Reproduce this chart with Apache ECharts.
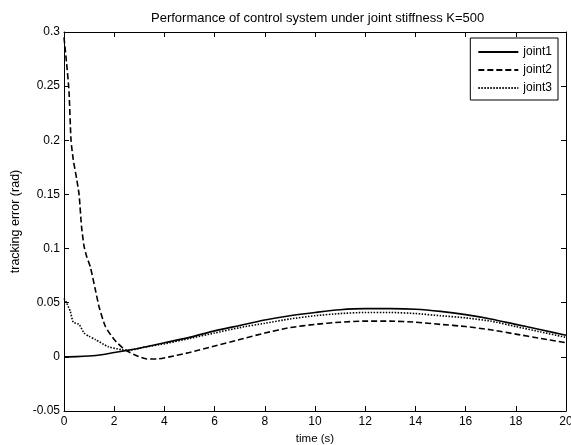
<!DOCTYPE html>
<html>
<head>
<meta charset="utf-8">
<script src="https://cdn.jsdelivr.net/npm/echarts@6/dist/echarts.min.js"></script>
<style>
  html, body { margin: 0; padding: 0; background: #fff; }
  #chart { width: 571px; height: 445px; }
</style>
</head>
<body>
<div id="chart"></div>
<script>
// values
var time1 = [0, 0.5, 1, 1.5, 2, 2.5, 3, 4, 5, 6, 7, 8, 9, 10, 11, 12, 13, 14, 15, 16, 17, 18, 19, 20];
var joint1 = [0, 0.0002, 0.0008, 0.002, 0.004, 0.006, 0.008, 0.013, 0.018, 0.024, 0.029, 0.034, 0.038, 0.041, 0.0435, 0.0445, 0.0445, 0.044, 0.042, 0.039, 0.035, 0.030, 0.025, 0.02];

var time2 = [0, 0.1, 0.2, 0.28, 0.37, 0.5, 0.6, 0.7, 0.8, 0.9, 1.05, 1.25, 1.4, 1.65, 2.0, 2.4, 2.8, 3.3, 3.7, 4.2, 5, 6, 7, 8, 9, 10, 11, 12, 13, 14, 15, 16, 17, 18, 19, 20];
var joint2 = [0.295, 0.272, 0.245, 0.2, 0.182, 0.165, 0.15, 0.12, 0.102, 0.093, 0.083, 0.062, 0.046, 0.028, 0.016, 0.007, 0.002, -0.002, -0.002, 0.0, 0.004, 0.01, 0.016, 0.022, 0.027, 0.030, 0.032, 0.033, 0.033, 0.032, 0.030, 0.028, 0.025, 0.021, 0.017, 0.013];

var time3 = [0, 0.1, 0.25, 0.37, 0.6, 0.8, 1.0, 1.25, 1.75, 2.3, 2.6, 3, 4, 5, 6, 7, 8, 9, 10, 11, 12, 13, 14, 15, 16, 17, 18, 19, 20];
var joint3 = [0.054, 0.05, 0.042, 0.032, 0.03, 0.022, 0.019, 0.016, 0.0095, 0.0065, 0.006, 0.008, 0.012, 0.017, 0.022, 0.027, 0.031, 0.035, 0.038, 0.040, 0.041, 0.041, 0.040, 0.038, 0.036, 0.033, 0.028, 0.023, 0.018];

function pairs(t, v) {
    var res = [];
    for (var i = 0; i < t.length; i++) {
        res.push([t[i], v[i]]);
    }
    return res;
}

var font = 'Liberation Sans, Arial, sans-serif';
var chart = echarts.init(document.getElementById('chart'));

// box axes: ticks inside on all four sides
function boxAxis(extra) {
    var ax = {
        type: 'value',
        axisLine: { show: true, onZero: false, lineStyle: { color: '#000', width: 1 } },
        axisTick: { show: true, inside: true, length: 5, lineStyle: { color: '#000' } },
        axisLabel: { fontSize: 12, color: '#000', fontFamily: font },
        splitLine: { show: false }
    };
    for (var k in extra) {
        ax[k] = extra[k];
    }
    return ax;
}

var option = {
    animation: false,
    backgroundColor: '#fff',
    textStyle: { fontFamily: font },
    title: {
        text: 'Performance of control system under joint stiffness K=500',
        left: 146,
        top: 7,
        textStyle: { fontSize: 13, fontWeight: 'normal', color: '#000', fontFamily: font }
    },
    legend: {
        orient: 'vertical',
        right: 13,
        top: 38,
        padding: [8, 6, 6, 7],
        itemGap: 6,
        itemWidth: 40,
        itemHeight: 14,
        borderColor: '#000',
        borderWidth: 1,
        borderRadius: 0,
        backgroundColor: '#fff',
        itemStyle: { opacity: 0 },
        textStyle: { fontSize: 12, color: '#000', fontFamily: font },
        data: ['joint1', 'joint2', 'joint3']
    },
    grid: { left: 64, right: 5, top: 32, bottom: 34, containLabel: false, outerBoundsMode: 'none' },
    xAxis: [
        boxAxis({
            min: 0, max: 20, interval: 2,
            name: 'time (s)',
            nameLocation: 'middle',
            nameGap: 22,
            nameTextStyle: { fontSize: 11.5, color: '#000', fontFamily: font },
            axisLabel: { fontSize: 12, color: '#000', fontFamily: font, margin: 5 }
        }),
        boxAxis({
            position: 'top',
            min: 0, max: 20, interval: 2,
            axisLabel: { show: false }
        })
    ],
    yAxis: [
        boxAxis({
            min: -0.05, max: 0.3, interval: 0.05,
            name: 'tracking error (rad)',
            nameLocation: 'middle',
            nameGap: 42,
            nameTextStyle: { fontSize: 12.5, color: '#000', fontFamily: font },
            axisLabel: { fontSize: 12, color: '#000', fontFamily: font, margin: 4 }
        }),
        boxAxis({
            position: 'right',
            min: -0.05, max: 0.3, interval: 0.05,
            axisLabel: { show: false }
        })
    ],
    series: [{
        name: 'joint1',
        type: 'line',
        showSymbol: false,
        symbol: 'none',
        smooth: 0.3,
        color: '#000',
        lineStyle: { color: '#000', width: 1.6, type: 'solid' },
        data: pairs(time1, joint1)
    }, {
        name: 'joint2',
        type: 'line',
        showSymbol: false,
        symbol: 'none',
        smooth: 0.2,
        color: '#000',
        lineStyle: { color: '#000', width: 1.6, type: [6, 3] },
        data: pairs(time2, joint2)
    }, {
        name: 'joint3',
        type: 'line',
        showSymbol: false,
        symbol: 'none',
        smooth: 0.2,
        color: '#000',
        lineStyle: { color: '#000', width: 1.6, type: [1.5, 1.5] },
        data: pairs(time3, joint3)
    }]
};

chart.setOption(option);
</script>
</body>
</html>
